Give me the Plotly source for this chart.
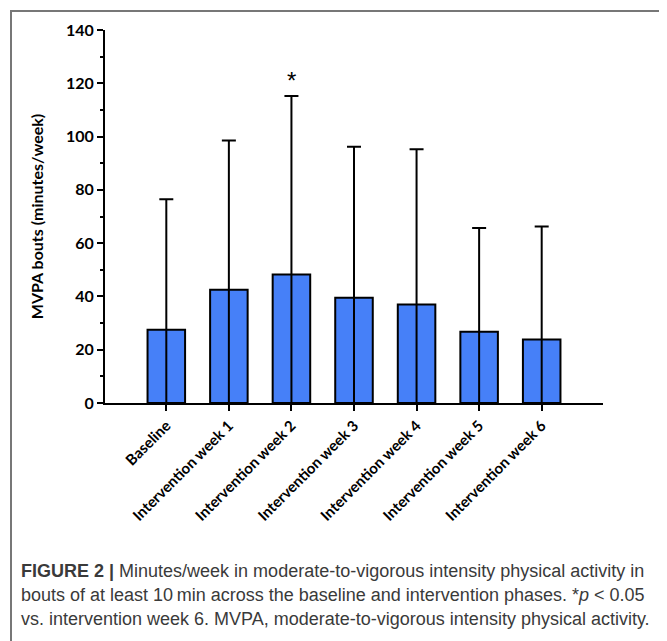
import plotly.graph_objects as go

categories = ["Baseline", "Intervention week 1", "Intervention week 2", "Intervention week 3",
              "Intervention week 4", "Intervention week 5", "Intervention week 6"]
means = [27.5, 42.5, 48.2, 39.5, 37.0, 26.7, 23.8]
upper = [76.5, 98.5, 115.2, 96.2, 95.2, 65.7, 66.2]
sig_labels = ["", "", "*", "", "", "", ""]
y_ticks = [0, 20, 40, 60, 80, 100, 120, 140]

BLUE = "#4680F8"
TXT_FONT = "Lato"

fig = go.Figure()
fig.add_trace(go.Bar(
    x=categories, y=means,
    marker=dict(color=BLUE, line=dict(color="black", width=2)),
    width=0.6, showlegend=False, hoverinfo="skip",
))
# error lines drawn from the base up to mean+SD, through the bar
fig.add_trace(go.Scatter(
    x=categories, y=[0] * len(categories), mode="markers",
    marker=dict(size=1, color="rgba(0,0,0,0)"),
    error_y=dict(type="data", symmetric=False, array=upper,
                 arrayminus=[0] * len(categories), color="black", thickness=2, width=7),
    showlegend=False, hoverinfo="skip",
))
for c, u, s in zip(categories, upper, sig_labels):
    if s:
        fig.add_annotation(x=c, y=u, text=s, showarrow=False, yshift=16,
                           font=dict(family="Liberation Sans", size=24, color="black"))

fig.update_xaxes(
    range=[-0.98, 6.98], showline=True, linecolor="black", linewidth=2,
    ticks="outside", ticklen=6, tickwidth=2, tickcolor="black", tickangle=-45,
    tickfont=dict(family=TXT_FONT, size=15, color="black", weight="bold"),
    showgrid=False, zeroline=False,
)
fig.update_yaxes(
    range=[0, 140], tickvals=y_ticks, showline=True, linecolor="black", linewidth=2,
    ticks="outside", ticklen=6, tickwidth=2, tickcolor="black",
    minor=dict(dtick=10, ticks="outside", ticklen=3, tickwidth=2, tickcolor="black"),
    tickfont=dict(family=TXT_FONT, size=16, color="black", weight="bold"),
    title=dict(text="MVPA bouts (minutes/week)", standoff=18,
               font=dict(family=TXT_FONT, size=16, color="black", weight="bold")),
    showgrid=False, zeroline=False,
)

# the page puts the figure 8px in from the top-left corner
OFF = 8
W, H = 667 - OFF, 641 - OFF
L, R, T, B = 105 - OFF, 64, 28 - OFF, 238
pw, ph = W - L - R, H - T - B

def px(x):
    return (x - OFF - L) / pw

def py(y):
    return (H - B - (y - OFF)) / ph

# figure border (open at bottom)
fig.add_shape(type="path", xref="paper", yref="paper",
              path=f"M {px(11)} {py(660)} L {px(11)} {py(9)} L {px(665)} {py(9)} L {px(665)} {py(660)}",
              line=dict(color="#777777", width=2))

caption = [
    "<b>FIGURE 2 |</b> Minutes/week in moderate-to-vigorous intensity physical activity in",
    "bouts of at least 10\u2009min across the baseline and intervention phases. *<i>p</i> < 0.05",
    "vs. intervention week 6. MVPA, moderate-to-vigorous intensity physical activity.",
]
for i, line in enumerate(caption):
    fig.add_annotation(xref="paper", yref="paper", x=px(19), y=py(572 + 24 * i),
                       xanchor="left", yanchor="middle", showarrow=False, text=line,
                       font=dict(family="Liberation Sans", size=18, color="#3a3a3a"))

fig.update_layout(
    width=W, height=H, margin=dict(l=L, r=R, t=T, b=B),
    plot_bgcolor="white", paper_bgcolor="white", bargap=0.4,
)
fig.write_html("out.html")
